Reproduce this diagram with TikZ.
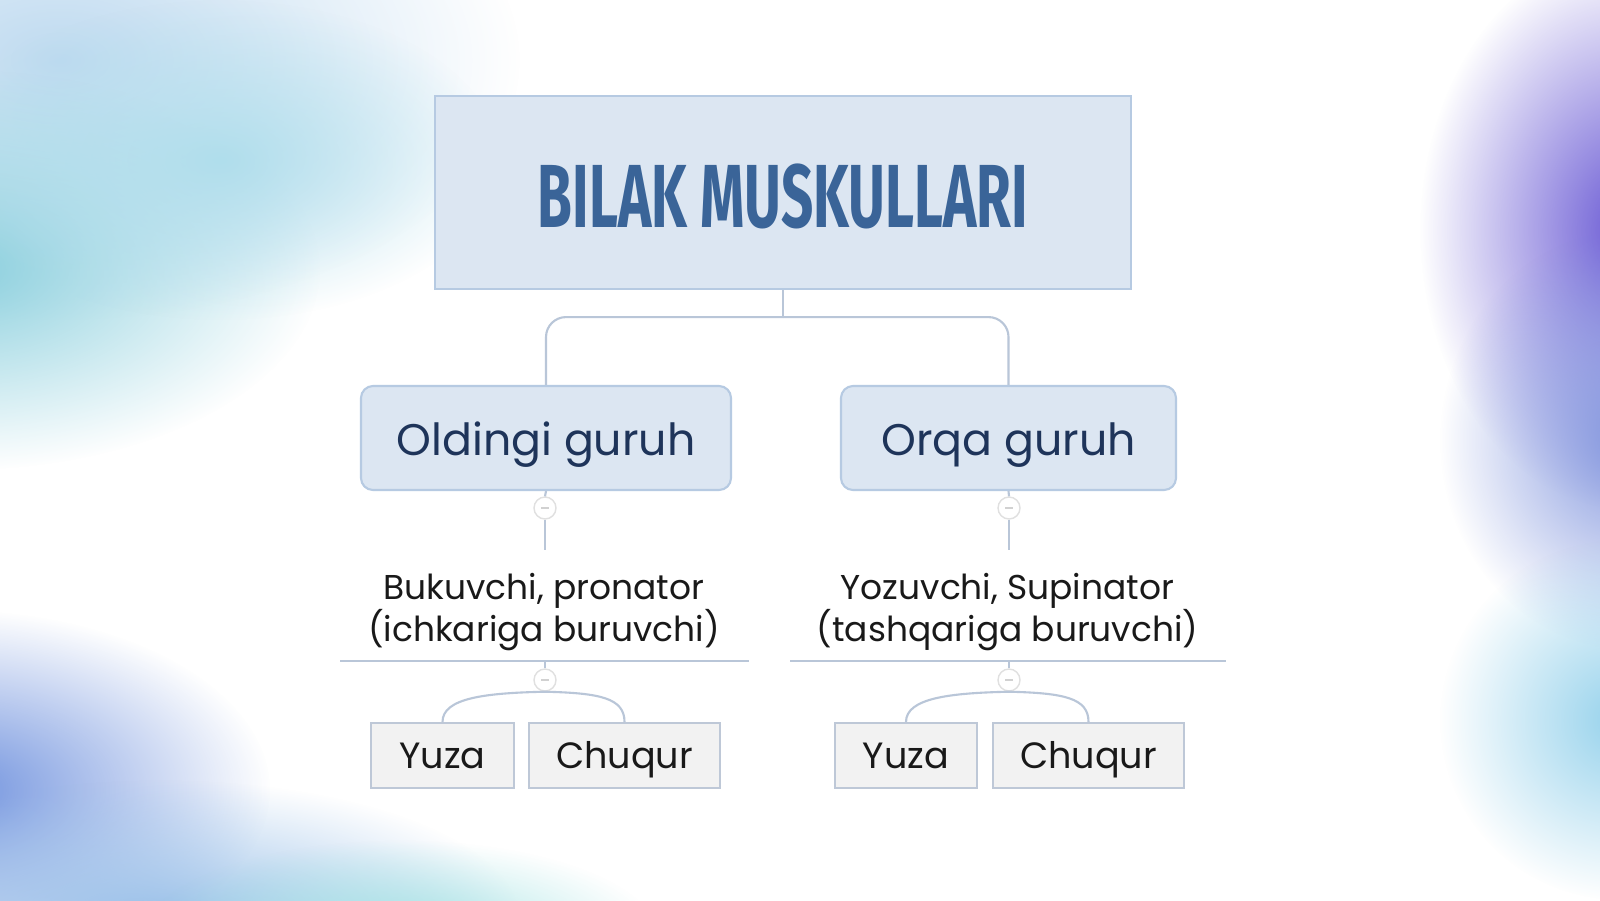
\documentclass[tikz,border=0pt]{standalone}
\usepackage{fontspec}
\setmainfont{Poppins}
\newfontfamily\titlefont{Fira Sans}[FakeStretch=0.63]
\usepackage{tikz}
\usetikzlibrary{calc,fadings,backgrounds}
\definecolor{titlefill}{RGB}{220,230,242}
\definecolor{titleline}{RGB}{182,202,226}
\definecolor{titletext}{RGB}{58,100,152}
\definecolor{grouptext}{RGB}{30,52,90}
\definecolor{leaffill}{RGB}{242,242,242}
\definecolor{leafline}{RGB}{190,200,215}
\definecolor{wire}{RGB}{185,198,216}
\definecolor{skyblue}{RGB}{190,218,240}
\definecolor{tealblob}{RGB}{140,208,222}
\definecolor{cyanblob}{RGB}{176,222,236}
\definecolor{blueblob}{RGB}{112,146,222}
\definecolor{paleblue}{RGB}{150,190,232}
\definecolor{mintblob}{RGB}{160,226,226}
\definecolor{purpleblob}{RGB}{104,88,212}
\definecolor{midblob}{RGB}{130,150,222}
\definecolor{iceblob}{RGB}{150,210,236}
\tikzfading[name=blob fade, inner color=transparent!0, outer color=transparent!100]
\newcommand{\wirecolor}{wire}
\newcommand{\thickness}{0.6pt}
\newcommand{\knob}{0.22cm}
\tikzset{
  titlebox/.style={draw=titleline, line width=\thickness, fill=titlefill, minimum width=6.96cm, minimum height=1.93cm, font=\titlefont\bfseries\fontsize{25.5}{28}\selectfont, text=titletext, text height=19.8pt, text depth=0pt},
  groupbox/.style={draw=titleline, line width=\thickness, fill=titlefill, rounded corners=0.12cm, minimum height=1.04cm, font=\fontsize{12.6}{15}\selectfont, text=grouptext, text height=12.9pt, text depth=3pt},
  leafbox/.style={draw=leafline, line width=\thickness, fill=leaffill, minimum height=0.65cm, font=\fontsize{10.4}{12}\selectfont, text=black!90, text height=9.9pt, text depth=2.4pt, inner ysep=0pt},
  subtext/.style={align=center, font=\fontsize{9.8}{12.2}\selectfont, text=black!90},
  toggle/.style={circle, draw=black!12, fill=white, minimum size=\knob, inner sep=0pt, line width=0.4pt,
    path picture={\draw[black!18, line width=0.3pt] ($(path picture bounding box.center)+(-0.04,0)$) -- ($(path picture bounding box.center)+(0.04,0)$);}},
  wireline/.style={draw=\wirecolor, line width=\thickness},
  blob/.style={fill=#1, path fading=blob fade}
}
\begin{document}
\begin{tikzpicture}
\useasboundingbox (0,0) rectangle (16,-9);
%background blobs
\begin{scope}[on background layer]
\fill[white] (0,0) rectangle (16,-9);
\fill[blob=skyblue] (0.6,-0.6) ellipse (4.6 and 2.6);
\fill[blob=tealblob] (-0.4,-2.7) ellipse (3.6 and 2.0);
\fill[blob=cyanblob] (2.2,-1.6) ellipse (2.8 and 1.6);
\fill[blob=blueblob] (-0.5,-7.9) ellipse (3.2 and 1.8);
\fill[blob=paleblue] (1.6,-9.2) ellipse (3.6 and 1.4);
\fill[blob=mintblob] (4.0,-9.4) ellipse (2.6 and 1.0);
\fill[blob=purpleblob] (16.3,-2.3) ellipse (2.1 and 2.8);
\fill[blob=midblob] (16.3,-4.4) ellipse (1.9 and 2.1);
\fill[blob=iceblob] (16.2,-7.2) ellipse (1.8 and 1.8);
\end{scope}
%top
\node[titlebox] (title) at (7.83,-1.925) {BILAK MUSKULLARI};
\node[groupbox, minimum width=3.70cm] (old) at (5.46,-4.38) {Oldingi guruh};
\node[groupbox, minimum width=3.35cm] (orqa) at (10.085,-4.38) {Orqa guruh};
\draw[wireline] (title.south) -- ++(0,-0.27) coordinate (fork);
\draw[wireline, rounded corners=0.2cm] (fork) -| (old.north);
\draw[wireline, rounded corners=0.2cm] (fork) -| (orqa.north);
%left
\node[toggle] (k1) at (5.45,-5.08) {};
\coordinate (e1) at (5.45,-5.50);
\node[subtext] (t1) at (5.44,-6.12) {Bukuvchi, pronator\\(ichkariga buruvchi)};
\coordinate (u1a) at (3.40,-6.61);
\coordinate (u1b) at (7.49,-6.61);
\coordinate (u1) at (5.45,-6.61);
\node[toggle] (k2) at (5.45,-6.80) {};
\node[leafbox, minimum width=1.43cm] (yuza1) at (4.425,-7.555) {Yuza};
\node[leafbox, minimum width=1.91cm] (chuqur1) at (6.245,-7.555) {Chuqur};
\draw[wireline] (old.south) -- (k1.north);
\draw[wireline] (k1.south) -- (e1);
\draw[wireline] (u1a) -- (u1b);
\draw[wireline] (u1) -- (k2.north);
\draw[wireline] (k2.south) .. controls (4.85,-6.93) and (4.425,-6.98) .. (yuza1.north);
\draw[wireline] (k2.south) .. controls (6.00,-6.93) and (6.245,-6.98) .. (chuqur1.north);
%right
\node[toggle] (k3) at (10.09,-5.08) {};
\coordinate (e3) at (10.09,-5.50);
\node[subtext] (t2) at (10.075,-6.12) {Yozuvchi, Supinator\\(tashqariga buruvchi)};
\coordinate (u2a) at (7.90,-6.61);
\coordinate (u2b) at (12.26,-6.61);
\coordinate (u2) at (10.09,-6.61);
\node[toggle] (k4) at (10.09,-6.80) {};
\node[leafbox, minimum width=1.42cm] (yuza2) at (9.06,-7.555) {Yuza};
\node[leafbox, minimum width=1.91cm] (chuqur2) at (10.885,-7.555) {Chuqur};
\draw[wireline] (orqa.south) -- (k3.north);
\draw[wireline] (k3.south) -- (e3);
\draw[wireline] (u2a) -- (u2b);
\draw[wireline] (u2) -- (k4.north);
\draw[wireline] (k4.south) .. controls (9.50,-6.93) and (9.06,-6.98) .. (yuza2.north);
\draw[wireline] (k4.south) .. controls (10.64,-6.93) and (10.885,-6.98) .. (chuqur2.north);
\end{tikzpicture}
\end{document}
